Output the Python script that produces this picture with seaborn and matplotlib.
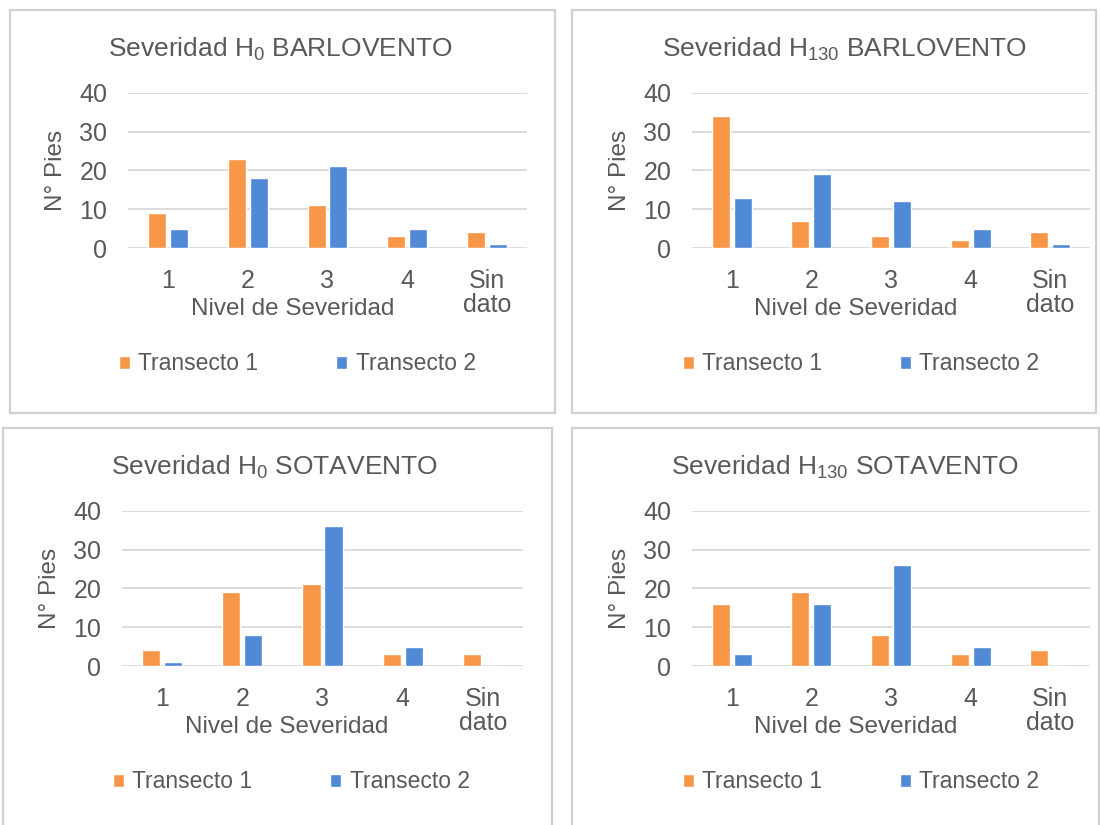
import matplotlib
matplotlib.use("Agg")
import matplotlib.pyplot as plt
from matplotlib.patches import Rectangle
import pandas as pd
import seaborn as sns

# Severity levels on the x axis and the two transects
categories = ["1", "2", "3", "4", "Sin\ndato"]
series_names = ["Transecto 1", "Transecto 2"]

# Number of trees per severity level
h0_barlovento_t1 = [9, 23, 11, 3, 4]
h0_barlovento_t2 = [5, 18, 21, 5, 1]
h130_barlovento_t1 = [34, 7, 3, 2, 4]
h130_barlovento_t2 = [13, 19, 12, 5, 1]
h0_sotavento_t1 = [4, 19, 21, 3, 3]
h0_sotavento_t2 = [1, 8, 36, 5, 0]
h130_sotavento_t1 = [16, 19, 8, 3, 4]
h130_sotavento_t2 = [3, 16, 26, 5, 0]

titles = [
    r"Severidad H$_{\mathregular{0}}$ BARLOVENTO",
    r"Severidad H$_{\mathregular{130}}$ BARLOVENTO",
    r"Severidad H$_{\mathregular{0}}$ SOTAVENTO",
    r"Severidad H$_{\mathregular{130}}$ SOTAVENTO",
]
y_ticks = [0, 10, 20, 30, 40]

ORANGE = "#F79646"
BLUE = "#5089D6"
TEXT = "#595959"
GRID = "#D9D9D9"
W, H = 1100, 825

sns.set_theme(style="white")
plt.rcParams["font.family"] = ["Liberation Sans", "DejaVu Sans"]
plt.rcParams["mathtext.default"] = "regular"

fig = plt.figure(figsize=(W / 100, H / 100), dpi=100)
fig.patch.set_facecolor("white")

# layout in pixels: chart frame, plot area, title, axis-title and legend centres
panels = [
    dict(t1=h0_barlovento_t1, t2=h0_barlovento_t2, title=titles[0],
         frame=(10, 10, 555, 413), plot=(128, 92.7, 527, 248),
         title_xy=(280, 49), xlab_xy=(293, 309), leg_xy=(297, 364)),
    dict(t1=h130_barlovento_t1, t2=h130_barlovento_t2, title=titles[1],
         frame=(572, 10, 1096, 413), plot=(692, 92.7, 1090, 248),
         title_xy=(845, 49), xlab_xy=(856, 309), leg_xy=(861, 364)),
    dict(t1=h0_sotavento_t1, t2=h0_sotavento_t2, title=titles[2],
         frame=(3, 428, 552, 830), plot=(122, 510.7, 523, 666),
         title_xy=(275, 467), xlab_xy=(287, 727), leg_xy=(291, 782)),
    dict(t1=h130_sotavento_t1, t2=h130_sotavento_t2, title=titles[3],
         frame=(572, 428, 1099, 830), plot=(692, 510.7, 1090, 666),
         title_xy=(845, 467), xlab_xy=(856, 727), leg_xy=(861, 782)),
]


def fx(px):
    return px / W


def fy(py):
    return 1 - py / H


for p in panels:
    x0, y0, x1, y1 = p["frame"]
    fig.add_artist(Rectangle((fx(x0), fy(y1)), fx(x1) - fx(x0), fy(y0) - fy(y1),
                             transform=fig.transFigure, fill=False,
                             edgecolor="#D0D0D0", linewidth=1.6, zorder=0))

    l, t, r, b = p["plot"]
    ax = fig.add_axes([fx(l), fy(b), fx(r) - fx(l), fy(t) - fy(b)])

    df = pd.DataFrame({
        "Nivel": categories * 2,
        "Pies": list(p["t1"]) + list(p["t2"]),
        "Serie": [series_names[0]] * len(categories) + [series_names[1]] * len(categories),
    })
    sns.barplot(data=df, x="Nivel", y="Pies", hue="Serie", order=categories,
                hue_order=series_names, palette=[ORANGE, BLUE], saturation=1,
                width=0.55, gap=0.18, ax=ax, legend=True)

    ax.set_ylim(0, 40)
    ax.set_xlim(-0.5, len(categories) - 0.5)
    ax.set_yticks(y_ticks)
    ax.set_yticklabels([str(v) for v in y_ticks])
    ax.grid(axis="y", color=GRID, linewidth=1.3)
    ax.grid(axis="x", visible=False)
    ax.set_axisbelow(True)
    for s in ax.spines.values():
        s.set_visible(False)
    ax.tick_params(axis="y", length=0, pad=15, labelsize=18, labelcolor=TEXT)
    ax.tick_params(axis="x", length=0, pad=15, labelsize=18, labelcolor=TEXT)
    for lab in ax.get_xticklabels():
        lab.set_linespacing(1.0)

    ax.set_xlabel("Nivel de Severidad", fontsize=17.5, color=TEXT, va="center")
    ax.xaxis.set_label_coords((p["xlab_xy"][0] - l) / (r - l),
                              (b - p["xlab_xy"][1]) / (b - t))
    ax.set_ylabel("N° Pies", fontsize=17.5, color=TEXT, va="center")
    ax.yaxis.set_label_coords((56 + (l - 128) - l) / (r - l), 0.5)

    fig.text(fx(p["title_xy"][0]), fy(p["title_xy"][1]), p["title"],
             ha="center", va="center", fontsize=19, color=TEXT)

    sns.move_legend(ax, "center", bbox_to_anchor=(fx(p["leg_xy"][0]), fy(p["leg_xy"][1])),
                    bbox_transform=fig.transFigure, ncol=2, frameon=False, title=None,
                    fontsize=16.5, labelcolor=TEXT, handlelength=0.5, handleheight=0.5,
                    handletextpad=0.35, columnspacing=3.4)

fig.savefig("out.png", dpi=100, facecolor="white")
